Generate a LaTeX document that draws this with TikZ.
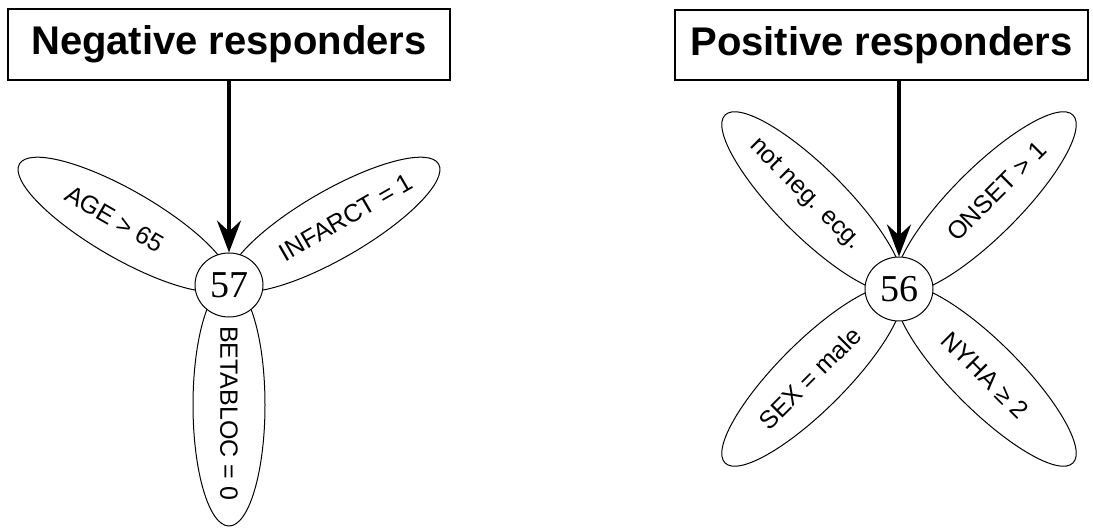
\documentclass[tikz,border=0pt]{standalone}
\usepackage{fontspec}
\setmainfont{Liberation Sans}
\newfontfamily\numfont{Liberation Serif}
\usetikzlibrary{shapes.geometric,arrows.meta,calc}
\begin{document}
\begin{tikzpicture}[x=1pt,y=1pt,
  titlebox/.style={draw, line width=2pt, rectangle, inner sep=0pt, font=\fontsize{40}{44}\selectfont\bfseries},
  petal/.style={draw, ellipse, line width=1pt, minimum width=242pt, minimum height=68pt, inner sep=0pt},
  petaltext/.style={font=\fontsize{25}{28}\selectfont, inner sep=0pt},
  hub/.style={draw, ellipse, fill=white, line width=1pt, minimum width=68pt, minimum height=64pt, inner sep=0pt, font=\numfont\fontsize{38}{40}\selectfont},
  feed/.style={line width=4pt, -{Stealth[length=32pt,width=24pt,inset=11pt]}}
]
\useasboundingbox (0,0) rectangle (1093,528);

% ---- left group ----
\node[titlebox, minimum width=442pt, minimum height=71pt] (box1) at (229,483.5) {Negative responders};
\coordinate (c1) at (229,243);
\node[petal, rotate=150] (p1a) at ($(c1)+(150:121)$) {};
\node[petal, rotate=30] (p1b) at ($(c1)+(30:121)$) {};
\node[petal, rotate=270, minimum height=72pt] (p1c) at ($(c1)+(270:120)$) {};
\node[petaltext, rotate=-30] (t1a) at ($(c1)+(150:132)$) {AGE > 65};
\node[petaltext, rotate=30] (t1b) at ($(c1)+(30:135)$) {INFARCT = 1};
\node[petaltext, rotate=-90] (t1c) at ($(c1)+(270:128)$) {BETABLOC = 0};
\node[hub] (hub1) at (c1) {57};
\draw[feed] (hub1.north |- box1.south) -- (hub1.north);

% ---- right group ----
\node[titlebox, minimum width=413pt, minimum height=70pt] (box2) at (881.5,483) {Positive responders};
\coordinate (c2) at (899,239);
\node[petal, rotate=135, minimum width=246pt] (p2a) at ($(c2)+(135:123)$) {};
\node[petal, rotate=45, minimum width=246pt] (p2b) at ($(c2)+(45:123)$) {};
\node[petal, rotate=225, minimum width=246pt] (p2c) at ($(c2)+(225:123)$) {};
\node[petal, rotate=315, minimum width=246pt] (p2d) at ($(c2)+(315:123)$) {};
\node[petaltext, rotate=-45] (t2a) at ($(c2)+(135:133)$) {not neg. ecg.};
\node[petaltext, rotate=45] (t2b) at ($(c2)+(45:138)$) {ONSET > 1};
\node[petaltext, rotate=45] (t2c) at ($(c2)+(225:126)$) {SEX = male};
\node[petaltext, rotate=-45] (t2d) at ($(c2)+(315:122)$) {NYHA ≥ 2};
\node[hub] (hub2) at (c2) {56};
\draw[feed] (hub2.north |- box2.south) -- (hub2.north);
\end{tikzpicture}
\end{document}
